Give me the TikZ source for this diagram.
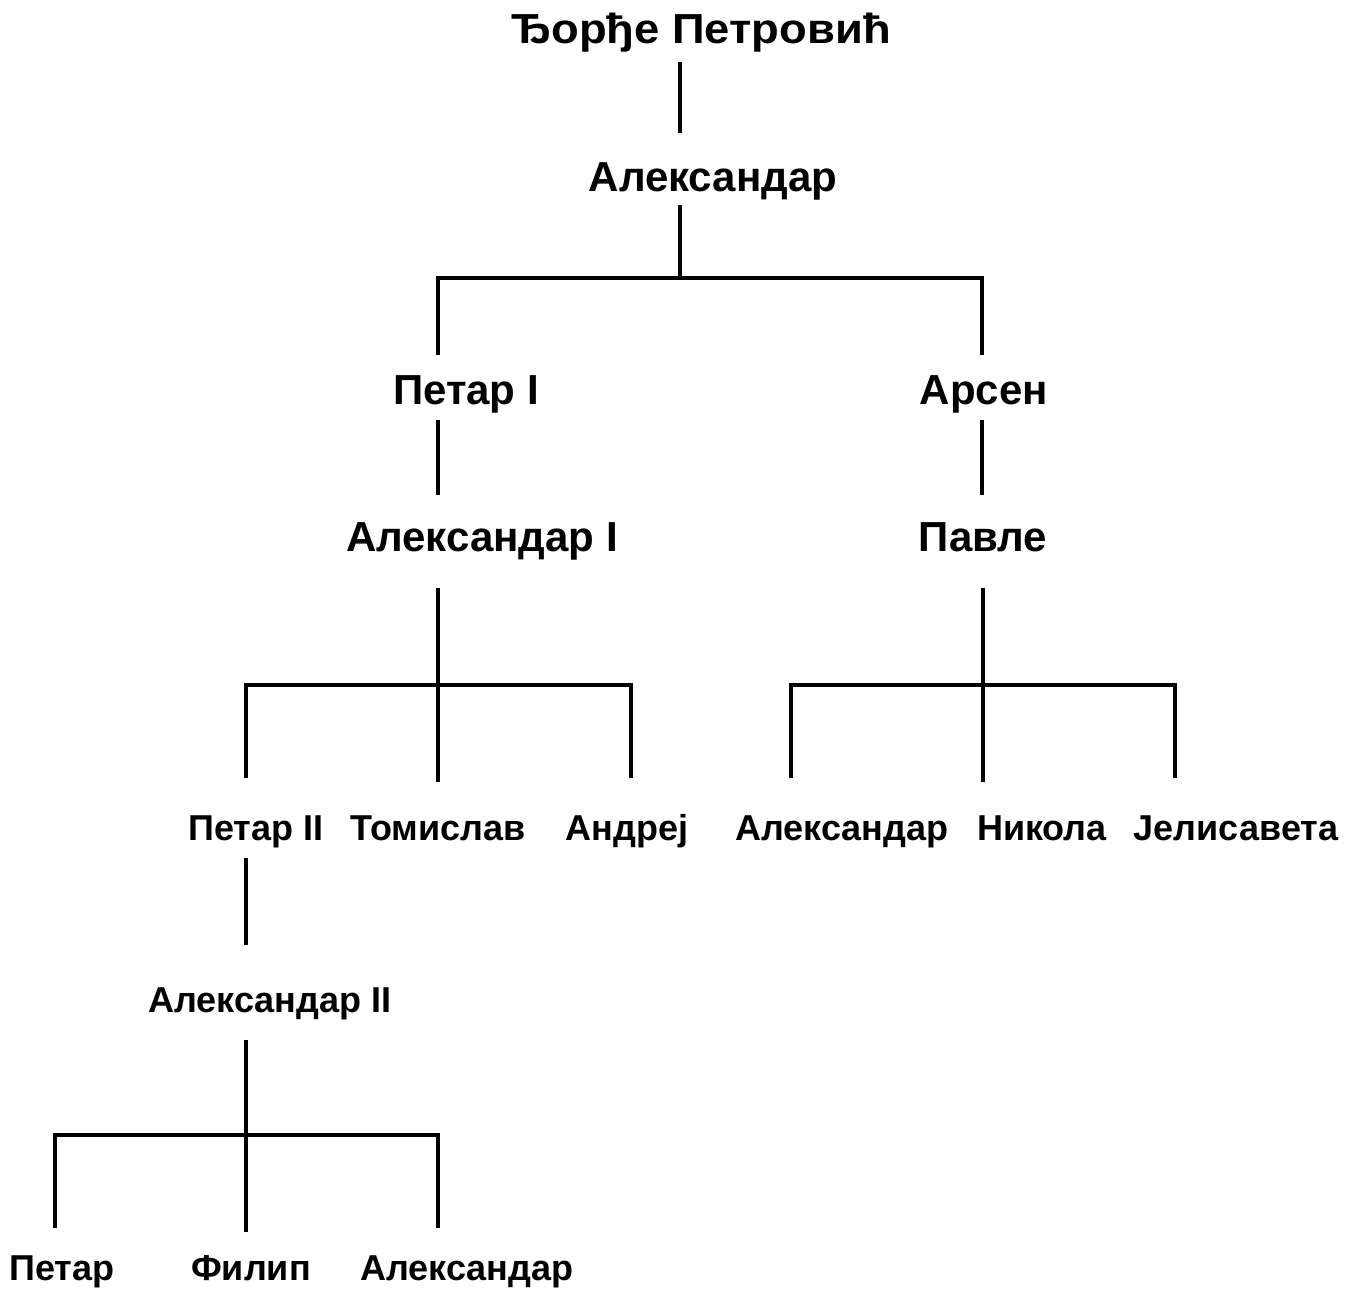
\documentclass[tikz,border=0pt]{standalone}
\usepackage{fontspec}
\setmainfont{Liberation Sans}

\begin{document}
\begin{tikzpicture}[x=0.5pt,y=-0.5pt,
    line/.style={line width=1.8pt},
    big/.style={font=\fontsize{21}{25}\selectfont\bfseries,anchor=base,inner sep=0pt},
    small/.style={font=\fontsize{18}{22}\selectfont\bfseries,anchor=base,inner sep=0pt}]
  \useasboundingbox (0,0) rectangle (1354,1290);
  % names
  \node[big] (djordje) at (701,43) {\scalebox{1.08}[1]{Ђорђе Петровић}};
  \node[big] (aleks) at (713,191) {Александар};
  \node[big] (petar1) at (466,404) {Петар I};
  \node[big] (arsen) at (984,404) {Арсен};
  \node[big] (aleks1) at (482,551) {Александар I};
  \node[big] (pavle) at (983,551) {Павле};
  \node[small] (petar2) at (256,840) {Петар II};
  \node[small] (tomislav) at (438,840) {Томислав};
  \node[small] (andrej) at (627,840) {Андреј};
  \node[small] (aleksp) at (842,840) {Александар};
  \node[small] (nikola) at (1042,840) {Никола};
  \node[small] (jelisaveta) at (1236,840) {Јелисавета};
  \node[small] (aleks2) at (270,1012) {Александар II};
  \node[small] (petar) at (62,1280) {Петар};
  \node[small] (filip) at (251,1280) {Филип};
  \node[small] (aleks3) at (467,1280) {Александар};
  % line ends and joints
  \coordinate (djordje-s) at (680,62);
  \coordinate (aleks-n) at (680,133);
  \coordinate (aleks-s) at (680,205);
  \coordinate (j1) at (680,278);
  \coordinate (j1r) at (982,278);
  \coordinate (petar1-n) at (438,355);
  \coordinate (arsen-n) at (982,355);
  \coordinate (petar1-s) at (438,420);
  \coordinate (arsen-s) at (982,420);
  \coordinate (aleks1-n) at (438,495);
  \coordinate (pavle-n) at (982,495);
  \coordinate (aleks1-s) at (438,588);
  \coordinate (pavle-s) at (983,588);
  \coordinate (j2r) at (631,685);
  \coordinate (j3r) at (1175,685);
  \coordinate (petar2-n) at (246,778);
  \coordinate (tomislav-n) at (438,782);
  \coordinate (andrej-n) at (631,778);
  \coordinate (aleksp-n) at (791,778);
  \coordinate (nikola-n) at (983,782);
  \coordinate (jelisaveta-n) at (1175,778);
  \coordinate (petar2-s) at (246,858);
  \coordinate (aleks2-n) at (246,945);
  \coordinate (aleks2-s) at (246,1040);
  \coordinate (j4r) at (438,1135);
  \coordinate (petar-n) at (55,1228);
  \coordinate (filip-n) at (246,1232);
  \coordinate (aleks3-n) at (438,1228);
  % lines
  \draw[line] (djordje-s) -- (aleks-n);
  \draw[line] (aleks-s) -- (j1);
  \draw[line] (petar1-n) |- (j1r) -- (arsen-n);
  \draw[line] (petar1-s) -- (aleks1-n);
  \draw[line] (arsen-s) -- (pavle-n);
  \draw[line] (aleks1-s) -- (tomislav-n);
  \draw[line] (petar2-n) |- (j2r) -- (andrej-n);
  \draw[line] (pavle-s) -- (nikola-n);
  \draw[line] (aleksp-n) |- (j3r) -- (jelisaveta-n);
  \draw[line] (petar2-s) -- (aleks2-n);
  \draw[line] (aleks2-s) -- (filip-n);
  \draw[line] (petar-n) |- (j4r) -- (aleks3-n);
\end{tikzpicture}
\end{document}
